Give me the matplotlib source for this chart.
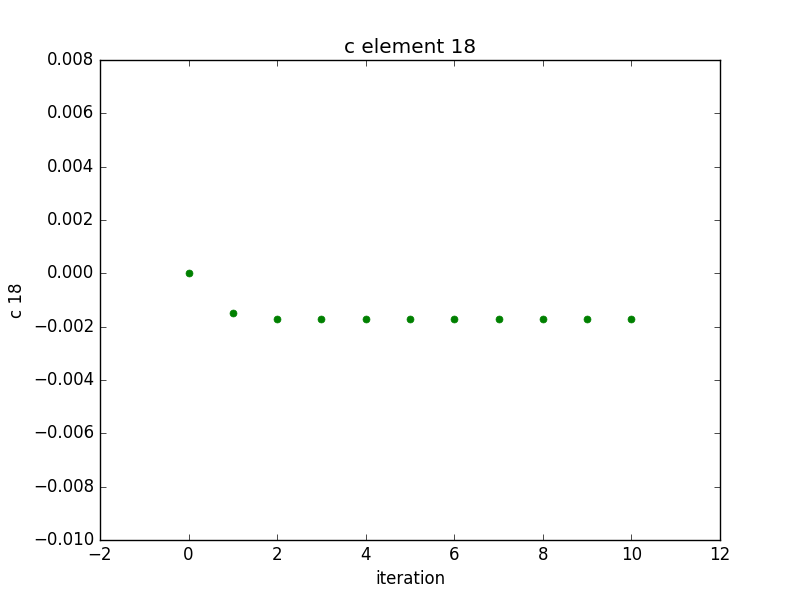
import matplotlib
matplotlib.use('Agg')
import matplotlib.pyplot as plt

plt.style.use('classic')

iteration = [0, 1, 2, 3, 4, 5, 6, 7, 8, 9, 10]
c18 = [0.0, -0.0015, -0.00173, -0.00173, -0.00173, -0.00173,
       -0.00173, -0.00173, -0.00173, -0.00173, -0.00173]

fig = plt.figure(figsize=(8, 6), dpi=100)
ax = fig.add_subplot(111)
ax.plot(iteration, c18, 'o', color='green', markeredgecolor='green', markersize=5)
ax.set_xlim(-2, 12)
ax.set_ylim(-0.010, 0.008)
ax.set_title('c element 18')
ax.set_xlabel('iteration')
ax.set_ylabel('c 18')
fig.savefig('out.png', dpi=100, facecolor='white')
